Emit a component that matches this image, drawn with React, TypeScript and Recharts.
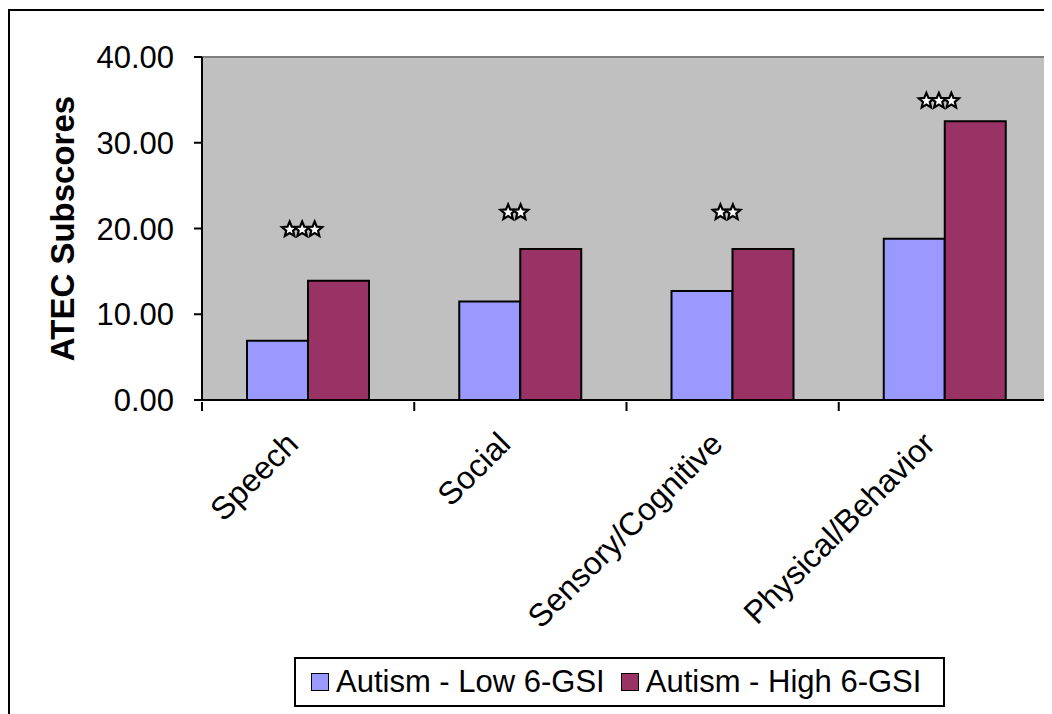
import * as React from 'react'
import {
  Bar,
  CartesianGrid,
  ComposedChart,
  Legend,
  Line,
  XAxis,
  YAxis,
} from 'recharts'

const categories = ['Speech', 'Social', 'Sensory/Cognitive', 'Physical/Behavior']
const lowGsi = [6.9, 11.5, 12.7, 18.8]
const highGsi = [13.9, 17.6, 17.6, 32.5]
// significance stars (count) and the level they sit at
const starCount = [3, 2, 2, 3]
const starLevel = [20, 22, 22, 35]
const yTicks = [0, 10, 20, 30, 40]

const seriesNames = ['Autism - Low 6-GSI', 'Autism - High 6-GSI']
const colors = ['#9999FF', '#993366']
const FONT = '"Liberation Sans", Arial, sans-serif'

const data = categories.map((name, i) => ({
  name,
  low: lowGsi[i],
  high: highGsi[i],
  starCount: starCount[i],
  starLevel: starLevel[i],
}))

// label at the band centre, tick marks at the band edges (Excel style)
function CategoryTick(props: any) {
  const { x, y, payload, index } = props
  const half = payload?.offset ?? 0
  const last = index === categories.length - 1
  return (
    <g>
      <line x1={x - half} x2={x - half} y1={y} y2={y + 9} stroke="#000" strokeWidth={2} />
      {last && <line x1={x + half} x2={x + half} y1={y} y2={y + 9} stroke="#000" strokeWidth={2} />}
      <g transform={`translate(${x - 8},${y + 44})`}>
        <text textAnchor="end" transform="rotate(-45)" fontSize={32} fontFamily={FONT} fill="#000">
          {payload.value}
        </text>
      </g>
    </g>
  )
}

function starPoints(cx: number, cy: number, r: number, r2: number) {
  const pts: string[] = []
  for (let k = 0; k < 10; k++) {
    const a = -Math.PI / 2 + (k * Math.PI) / 5
    const rad = k % 2 === 0 ? r : r2
    pts.push(`${cx + rad * Math.cos(a)},${cy + rad * Math.sin(a)}`)
  }
  return pts.join(' ')
}

function StarDot(props: any) {
  const { cx, cy, payload, index } = props
  if (cx == null || cy == null) return null
  const n = payload.starCount
  const step = 12.5
  const x0 = cx - 6 - ((n - 1) * step) / 2
  return (
    <g key={`star-${index}`}>
      {Array.from({ length: n }, (_, k) => (
        <polygon
          key={k}
          points={starPoints(x0 + k * step, cy + 1, 8, 3.6)}
          fill="#fff"
          stroke="#000"
          strokeWidth={2.2}
          strokeLinejoin="miter"
        />
      ))}
    </g>
  )
}

function LegendBox() {
  return (
    <div
      style={{
        border: '2px solid #000',
        background: '#fff',
        boxSizing: 'border-box',
        width: 651,
        height: 50,
        display: 'flex',
        alignItems: 'center',
        paddingLeft: 15,
        fontFamily: FONT,
        fontSize: 31,
        color: '#000',
      }}
    >
      {seriesNames.map((s, i) => (
        <div key={s} style={{ display: 'flex', alignItems: 'center', marginRight: 16 }}>
          <span
            style={{
              width: 16,
              height: 16,
              background: colors[i],
              border: '1.5px solid #000',
              marginRight: 7,
              display: 'inline-block',
            }}
          />
          <span style={{ whiteSpace: 'nowrap' }}>{s}</span>
        </div>
      ))}
    </div>
  )
}

export default function App() {
  return (
    <div
      style={{
        marginTop: 1,
        borderTop: '2px solid #000',
        borderLeft: '2px solid #000',
        width: 1042,
        height: 703,
        background: '#fff',
        position: 'relative',
      }}
    >
      <ComposedChart
        width={1042}
        height={703}
        data={data}
        margin={{ top: 46, right: 1, left: 42, bottom: 313 }}
        barGap={0}
        barSize={61}
      >
        {/* grey plot area with grey border on top and right */}
        <CartesianGrid
          fill="#C0C0C0"
          stroke="#808080"
          strokeWidth={2}
          horizontalCoordinatesGenerator={({ offset }: any) => [offset.top]}
          verticalCoordinatesGenerator={({ offset }: any) => [offset.left + offset.width]}
        />
        <XAxis
          dataKey="name"
          height={1}
          interval={0}
          tickLine={false}
          tickSize={0}
          axisLine={{ stroke: '#000', strokeWidth: 2 }}
          tick={<CategoryTick />}
        />
        <YAxis
          width={150}
          domain={[0, 40]}
          ticks={yTicks}
          interval={0}
          tickSize={8}
          tickMargin={20}
          tickFormatter={(v: number) => v.toFixed(2)}
          tick={{ fontSize: 31, fontFamily: FONT, fill: '#000' }}
          tickLine={{ stroke: '#000', strokeWidth: 2 }}
          axisLine={{ stroke: '#000', strokeWidth: 2 }}
          label={{
            value: 'ATEC Subscores',
            angle: -90,
            position: 'insideLeft',
            offset: 10,
            style: { textAnchor: 'middle', fontSize: 33, fontWeight: 'bold', fontFamily: FONT, fill: '#000' },
          }}
        />
        <Bar
          dataKey="low"
          name={seriesNames[0]}
          fill={colors[0]}
          stroke="#000"
          strokeWidth={2}
          isAnimationActive={false}
        />
        <Bar
          dataKey="high"
          name={seriesNames[1]}
          fill={colors[1]}
          stroke="#000"
          strokeWidth={2}
          isAnimationActive={false}
        />
        <Line
          dataKey="starLevel"
          stroke="none"
          dot={<StarDot />}
          activeDot={false}
          legendType="none"
          isAnimationActive={false}
        />
        <Legend
          layout="vertical"
          align="center"
          verticalAlign="middle"
          wrapperStyle={{ left: 284, top: 646, width: 651 }}
          content={<LegendBox />}
        />
      </ComposedChart>
    </div>
  )
}
